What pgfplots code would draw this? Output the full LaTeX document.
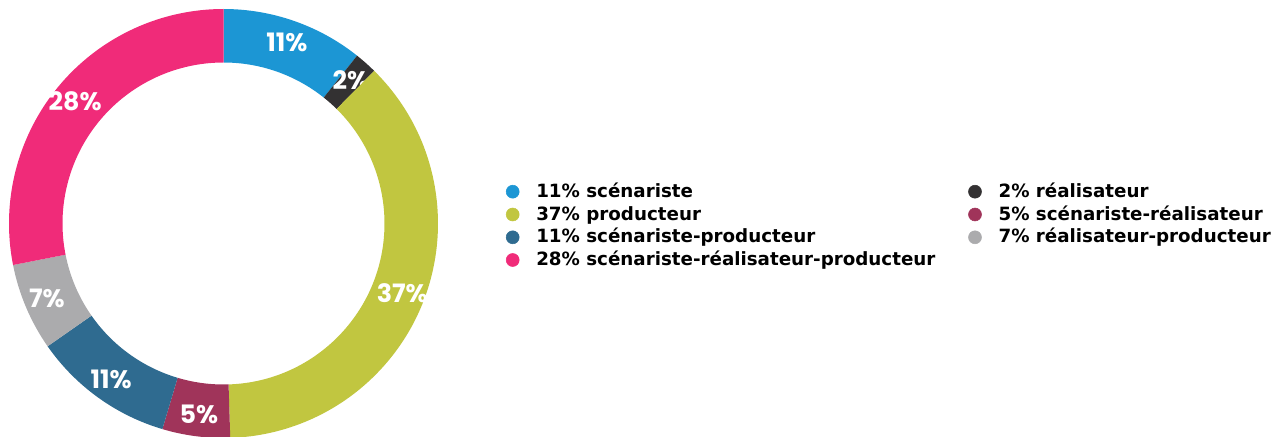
\documentclass[border=0pt]{standalone}
\usepackage{fontspec}
\setmainfont{Poppins}
\newfontfamily\legfont{DejaVu Sans}
\usepackage{pgfplots}
\usepackage{pgfplotstable}
\pgfplotsset{compat=1.18}
\definecolor{cA}{HTML}{1C96D4}
\definecolor{cB}{HTML}{333132}
\definecolor{cC}{HTML}{C1C640}
\definecolor{cD}{HTML}{A0345A}
\definecolor{cE}{HTML}{2F6B90}
\definecolor{cF}{HTML}{ABABAD}
\definecolor{cG}{HTML}{F02B79}

% share (percent), colour, printed label
\pgfplotstableread{
value color label
10.7  cA    11
1.7   cB    2
37.1  cC    37
5.1   cD    5
10.7  cE    11
6.6   cF    7
28.1  cG    28
}\donut

\newcommand\cx{223.5}
\newcommand\cy{212.5}
\gdef\cum{0}
\gdef\drawcmds{}
\foreach \i in {0,...,6}{%
  \pgfplotstablegetelem{\i}{value}\of{\donut}%
  \pgfmathsetmacro\a{90-3.6*\cum}%
  \pgfmathsetmacro\b{90-3.6*(\cum+\pgfplotsretval)}%
  \pgfmathsetmacro\m{(\a+\b)/2}%
  \pgfmathsetmacro\c{\cum+\pgfplotsretval}%
  \xdef\cum{\c}%
  \pgfplotstablegetelem{\i}{color}\of{\donut}%
  \edef\col{\pgfplotsretval}%
  \pgfplotstablegetelem{\i}{label}\of{\donut}%
  \edef\lab{\pgfplotsretval}%
  \xdef\drawcmds{\unexpanded\expandafter{\drawcmds}
    \noexpand\fill[fill=\col] (axis cs:\cx,\cy) ++(\a:160.875pt)
      arc[start angle=\a, end angle=\b, radius=160.875pt]
      -- ++(\b:-40.125pt)
      arc[start angle=\b, end angle=\a, radius=120.75pt] -- cycle;
    \noexpand\path (axis cs:\cx,\cy) ++(\m:144pt)
      node[text=white, font=\noexpand\fontsize{19pt}{22pt}\noexpand\selectfont\noexpand\bfseries] {\lab\noexpand\%};
  }%
}

\begin{document}
\begin{tikzpicture}
\begin{axis}[
  x=0.75pt, y=0.75pt,
  xmin=0, xmax=1279, ymin=0, ymax=436,
  hide axis, scale only axis, clip=false,
]
\drawcmds
% legend bullets
\addplot[only marks, mark=*, mark size=4.875pt, color=cA] coordinates {(512.7,244.3)};
\addplot[only marks, mark=*, mark size=4.875pt, color=cC] coordinates {(512.7,221.5)};
\addplot[only marks, mark=*, mark size=4.875pt, color=cE] coordinates {(512.7,198.7)};
\addplot[only marks, mark=*, mark size=4.875pt, color=cG] coordinates {(512.7,176.0)};
\addplot[only marks, mark=*, mark size=4.875pt, color=cB] coordinates {(975,244.3)};
\addplot[only marks, mark=*, mark size=4.875pt, color=cD] coordinates {(975,221.5)};
\addplot[only marks, mark=*, mark size=4.875pt, color=cF] coordinates {(975,198.7)};
\begin{scope}[every node/.style={anchor=base west, inner sep=0pt, font=\legfont\fontsize{13.7pt}{16pt}\selectfont\bfseries}]
\node at (axis cs:536,238.7) {11\% scénariste};
\node at (axis cs:536,215.8) {37\% producteur};
\node at (axis cs:536,193.0) {11\% scénariste-producteur};
\node at (axis cs:536,170.2) {28\% scénariste-réalisateur-producteur};
\node at (axis cs:998.3,238.7) {2\% réalisateur};
\node at (axis cs:998.3,215.8) {5\% scénariste-réalisateur};
\node at (axis cs:998.3,193.0) {7\% réalisateur-producteur};
\end{scope}
\end{axis}
\pgfresetboundingbox
\path[use as bounding box] (current axis.south west) rectangle (current axis.north east);
\end{tikzpicture}
\end{document}
